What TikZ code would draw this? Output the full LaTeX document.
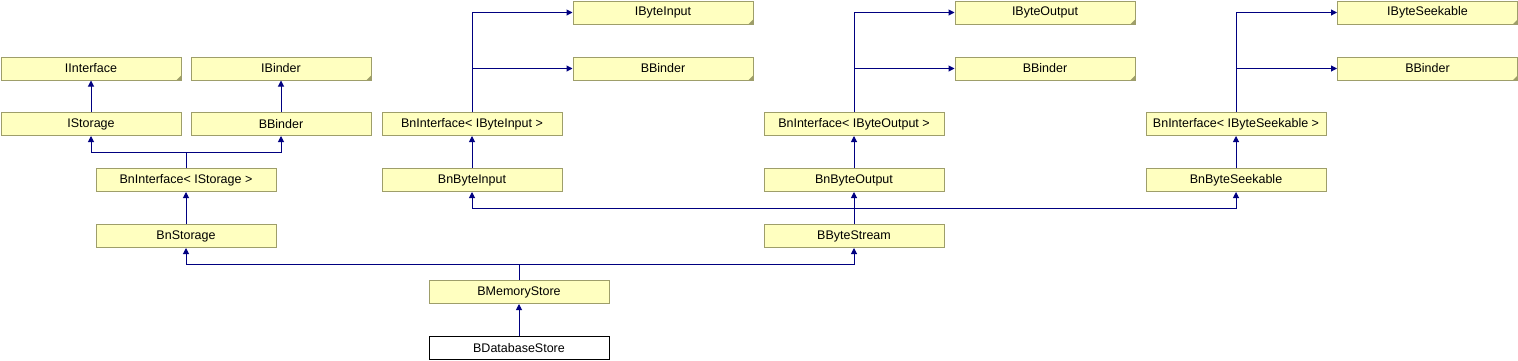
\documentclass[tikz,border=0pt]{standalone}
\usepackage{fontspec}
\setmainfont{Liberation Sans}
\usetikzlibrary{arrows.meta}
\definecolor{boxfill}{HTML}{FFFFC0}
\definecolor{boxline}{HTML}{9E9E6A}
\definecolor{edgecol}{HTML}{000080}
\tikzset{
  cls/.style={draw=boxline, fill=boxfill, line width=1pt, minimum width=180pt, minimum height=23pt, inner sep=0pt, font=\fontsize{12.5}{14}\selectfont, text=black},
  leaf/.style={draw=black, fill=white, line width=1pt, minimum width=180pt, minimum height=23pt, inner sep=0pt, font=\fontsize{12.5}{14}\selectfont, text=black},
  conn/.style={draw=edgecol, line width=1pt},
  inh/.style={conn, -{Triangle[length=6pt,width=6pt]}},
}
\begin{document}
\begin{tikzpicture}[x=1pt,y=-1pt]
\useasboundingbox (0,0) rectangle (1518,360);
% left part
\node[cls] (IInterface) at (91,68.5) {IInterface};
\node[cls] (IBinder) at (281,68.5) {IBinder};
\node[cls] (IStorage) at (91,124) {IStorage};
\node[cls] (BBinderA) at (281,124) {BBinder};
\node[cls] (BnIS) at (186,180) {BnInterface< IStorage >};
\node[cls] (BnStorage) at (186,236) {BnStorage};
\node[cls] (BMemoryStore) at (519,292) {BMemoryStore};
\node[leaf] (BDatabaseStore) at (519,348) {BDatabaseStore};
% byte input
\node[cls] (IByteInput) at (663,12.5) {IByteInput};
\node[cls] (BBinderB) at (663,68.5) {BBinder};
\node[cls] (BnIBI) at (472,124) {BnInterface< IByteInput >};
\node[cls] (BnByteInput) at (472,180) {BnByteInput};
% byte output
\node[cls] (IByteOutput) at (1045,12.5) {IByteOutput};
\node[cls] (BBinderC) at (1045,68.5) {BBinder};
\node[cls] (BnIBO) at (854,124) {BnInterface< IByteOutput >};
\node[cls] (BnByteOutput) at (854,180) {BnByteOutput};
\node[cls] (BByteStream) at (854,236) {BByteStream};
% byte seekable
\node[cls] (IByteSeekable) at (1427.5,12.5) {IByteSeekable};
\node[cls] (BBinderD) at (1427.5,68.5) {BBinder};
\node[cls] (BnIBS) at (1236,124) {BnInterface< IByteSeekable >};
\node[cls] (BnByteSeekable) at (1236,180) {BnByteSeekable};

% dog-ear corners
\foreach \n in {IInterface,IBinder,IByteInput,BBinderB,IByteOutput,BBinderC,IByteSeekable,BBinderD}
  \fill[boxline] ([xshift=-5.5pt]\n.south east) -- (\n.south east) -- ([yshift=5.5pt]\n.south east) -- cycle;

% junction coordinates
\coordinate (j1) at (186,152);
\coordinate (j2) at (519,264);
\coordinate (j3) at (854,208);

% edges
\draw[inh] (IStorage) -- (IInterface);
\draw[inh] (BBinderA) -- (IBinder);
\draw[conn] (BnIS.north) -- (j1);
\draw[inh] (j1) -| (IStorage.south);
\draw[inh] (j1) -| (BBinderA.south);
\draw[inh] (BnStorage) -- (BnIS);

\draw[conn] (BMemoryStore.north) -- (j2);
\draw[inh] (j2) -| (BnStorage.south);
\draw[inh] (j2) -| (BByteStream.south);
\draw[inh] (BDatabaseStore) -- (BMemoryStore);

\draw[conn] (BByteStream.north) -- (j3);
\draw[inh] (j3) -| (BnByteInput.south);
\draw[inh] (j3) -- (BnByteOutput.south);
\draw[inh] (j3) -| (BnByteSeekable.south);

\draw[inh] (BnByteInput) -- (BnIBI);
\draw[inh] (BnByteOutput) -- (BnIBO);
\draw[inh] (BnByteSeekable) -- (BnIBS);

\draw[inh] (BnIBI.north) |- (IByteInput.west);
\draw[inh] (BnIBI.north |- BBinderB.west) -- (BBinderB.west);
\draw[inh] (BnIBO.north) |- (IByteOutput.west);
\draw[inh] (BnIBO.north |- BBinderC.west) -- (BBinderC.west);
\draw[inh] (BnIBS.north) |- (IByteSeekable.west);
\draw[inh] (BnIBS.north |- BBinderD.west) -- (BBinderD.west);
\end{tikzpicture}
\end{document}
